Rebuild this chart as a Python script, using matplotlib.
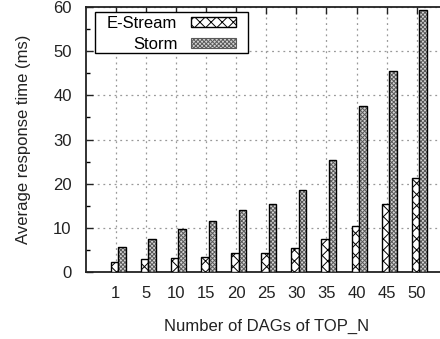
import matplotlib
matplotlib.use("Agg")
import matplotlib.pyplot as plt
from matplotlib.ticker import MultipleLocator
from matplotlib.patches import Patch, Rectangle
import numpy as np

categories = ["1", "5", "10", "15", "20", "25", "30", "35", "40", "45", "50"]
estream = [2.1, 2.9, 3.1, 3.3, 4.3, 4.3, 5.3, 7.4, 10.3, 15.4, 21.2]
storm = [5.5, 7.4, 9.6, 11.5, 14.0, 15.4, 18.5, 25.4, 37.6, 45.6, 59.5]

plt.rcParams['font.family'] = ['Liberation Sans', 'DejaVu Sans']
plt.rcParams['font.size'] = 12
plt.rcParams['hatch.linewidth'] = 0.7

fig = plt.figure(figsize=(4.4, 3.39), dpi=100)
# axes runs past the right edge of the picture, as in the reference
ax = fig.add_axes([85.6 / 440, 1 - 271.7 / 339, 361.2 / 440, 264.4 / 339])

x = np.arange(len(categories))
w = 0.25
hatch_e = 'xxx'
hatch_s = 'x' * 8

# E-Stream: white with black cross hatch
ax.bar(x - 0.04, estream, w, color='white', edgecolor='black',
       hatch=hatch_e, linewidth=1.0, zorder=3)
# Storm: gray with dense dark hatch, black outline drawn on top
ax.bar(x + 0.21, storm, w, color='#d4d4d4', edgecolor='#5a5a5a',
       hatch=hatch_s, linewidth=0, zorder=3)
ax.bar(x + 0.21, storm, w, fill=False, edgecolor='black',
       linewidth=1.0, zorder=4)

h1 = Patch(facecolor='white', edgecolor='black', hatch=hatch_e, linewidth=1.0)
h2 = Patch(facecolor='#d4d4d4', edgecolor='#5a5a5a', hatch=hatch_s, linewidth=0.8)

ax.set_xlim(-1, len(categories))
ax.set_ylim(0, 60)
ax.set_xticks(x)
ax.set_xticklabels(categories)
ax.yaxis.set_major_locator(MultipleLocator(10))
ax.yaxis.set_minor_locator(MultipleLocator(5))
ax.tick_params(axis='both', which='major', direction='in', length=5, width=1,
               top=True, right=True, colors='#222222', labelcolor='#222222')
ax.tick_params(axis='y', which='minor', direction='in', length=3, width=1,
               right=True)
ax.tick_params(axis='y', which='major', pad=10)
ax.tick_params(axis='x', which='major', pad=10)
ax.grid(True, which='major', linestyle=(0, (1.5, 3)), color='#999999',
        linewidth=0.9, zorder=0)
ax.set_axisbelow(True)
for s in ax.spines.values():
    s.set_linewidth(1.3)
    s.set_color('#222222')

ax.set_xlabel("Number of DAGs of TOP_N", labelpad=13, color='#222222')
ax.set_ylabel("Average response time (ms)", labelpad=16, color='#222222')

# legend frame drawn separately (gnuplot-style box: tight top/bottom, wide sides)
box = Rectangle((0.026, 0.827), 0.4236, 0.155, transform=ax.transAxes,
                facecolor='white', edgecolor='black', linewidth=1.0, zorder=5)
ax.add_patch(box)
leg = ax.legend([h1, h2], ["E-Stream", "Storm"], loc='upper left',
                bbox_to_anchor=(0.059, 0.967), borderaxespad=0, borderpad=0,
                markerfirst=False, frameon=False, handlelength=2.75,
                handleheight=0.55, handletextpad=0.8, labelspacing=0.33)
leg.set_zorder(6)

fig.savefig("out.png", dpi=100)
